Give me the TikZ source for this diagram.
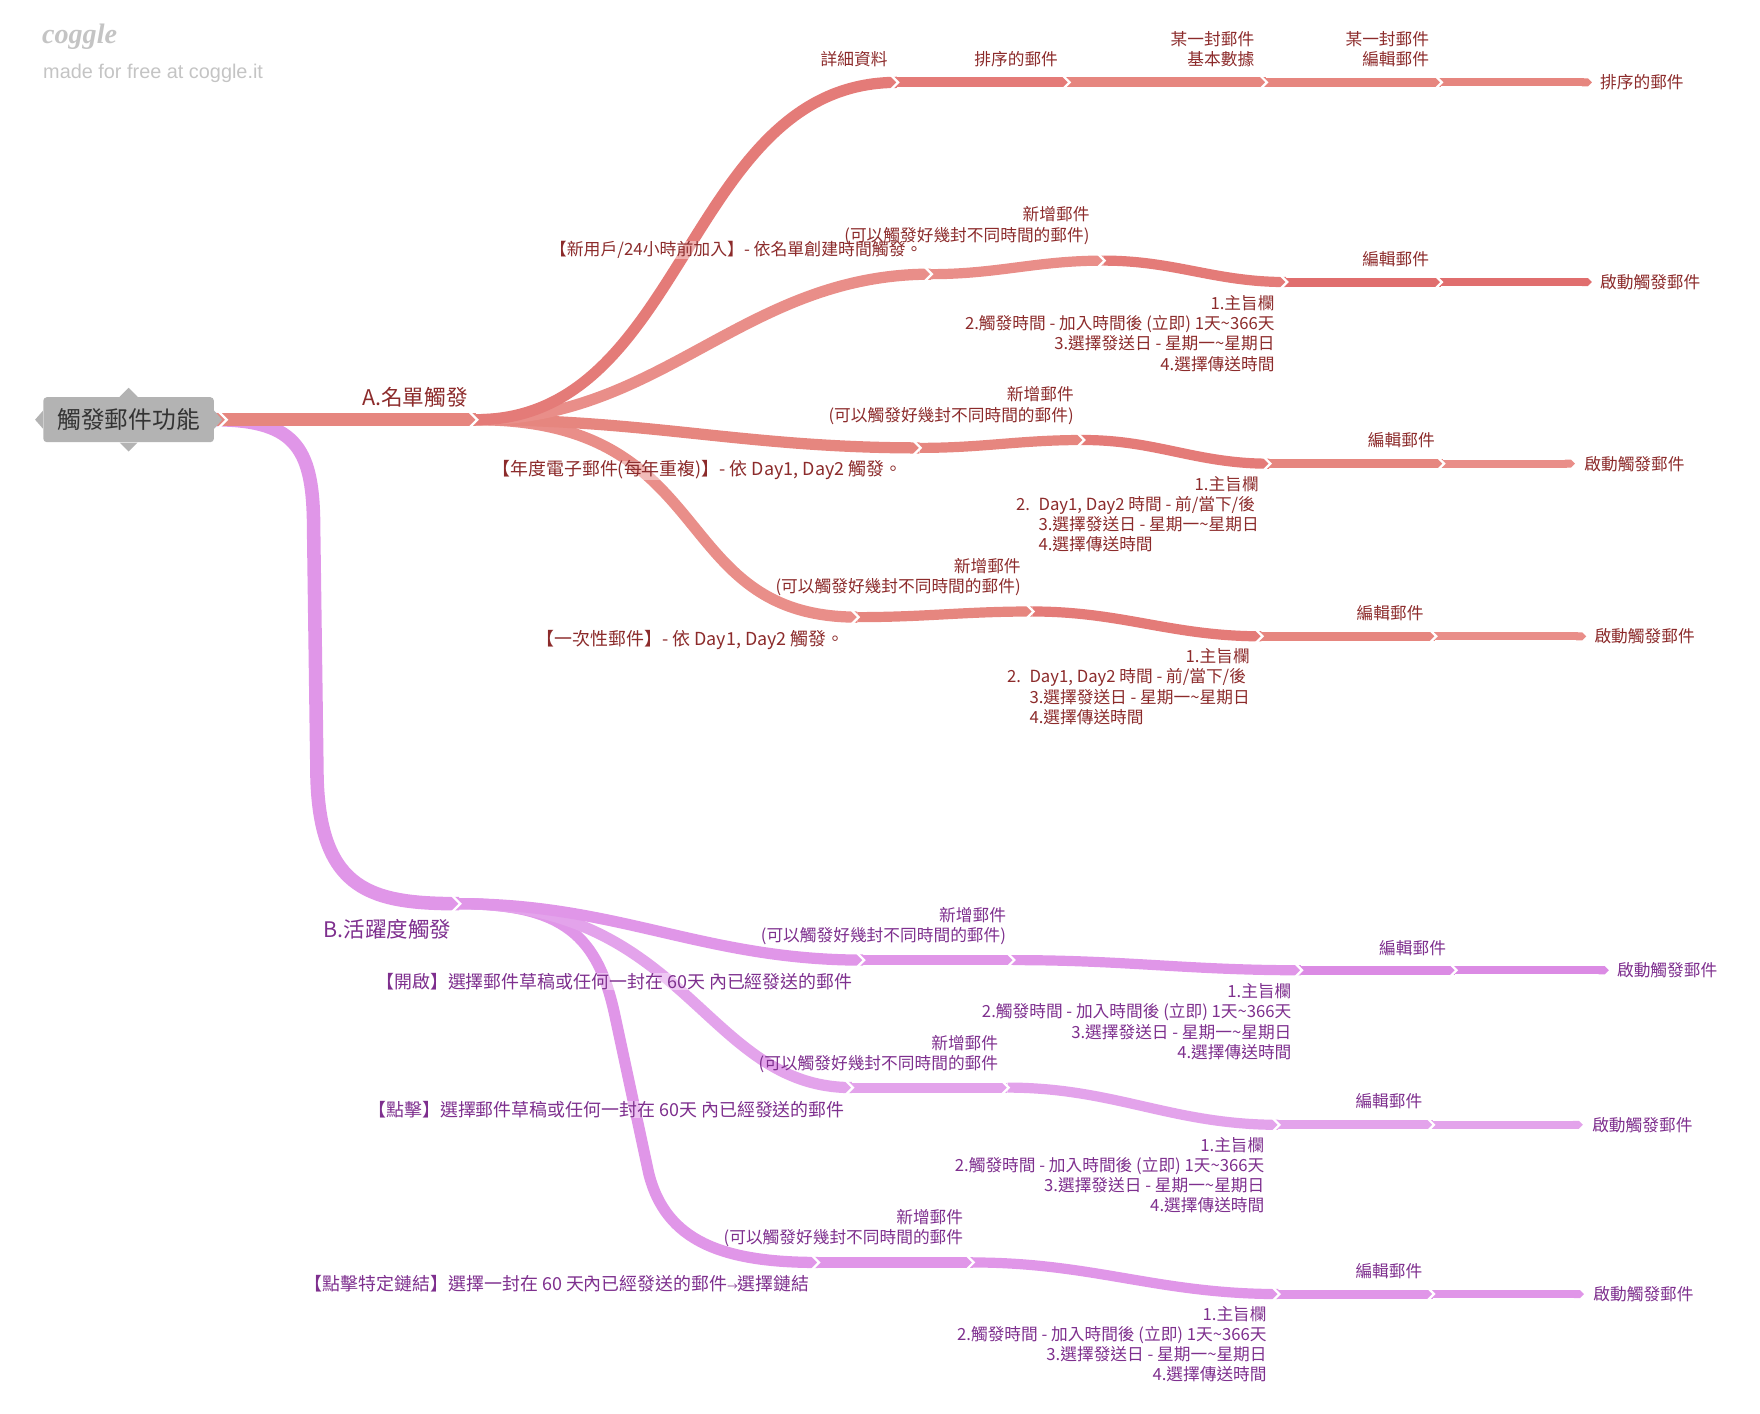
\documentclass[tikz,border=0pt]{standalone}
\usepackage{fontspec}
\setmainfont{Noto Sans CJK TC}
\newfontfamily\logofont{Liberation Serif}
\newfontfamily\creditfont{Liberation Sans}
\usepackage{tikz}
\usetikzlibrary{arrows.meta}
\definecolor{amain}{HTML}{E6867F}
\definecolor{ared}{HTML}{E47B78}
\definecolor{apale}{HTML}{E98E89}
\definecolor{adark}{HTML}{E06E6E}
\definecolor{atext}{HTML}{8C2B2B}
\definecolor{bmain}{HTML}{E096E8}
\definecolor{bdeep}{HTML}{DB8BE4}
\definecolor{bpale}{HTML}{E3A3EB}
\definecolor{btext}{HTML}{7E2F8E}
\definecolor{nodegray}{HTML}{B3B3B3}
\definecolor{rootgray}{HTML}{333333}
\definecolor{logogray}{HTML}{C4C4C4}
\newcommand{\lblsize}{\fontsize{9.5}{11.5}\selectfont}
\newcommand{\trigsize}{\fontsize{10.2}{12}\selectfont}
\newcommand{\rootsize}{\fontsize{13.5}{15}\selectfont}
\tikzstyle{notch} = [white, line width=1.3pt]
\newcommand{\notchat}[1]{\draw[notch] (#1) ++(-7,-8) -- ++(8,8) -- ++(-8,8);}

\begin{document}
\begin{tikzpicture}[x=0.02256cm, y=-0.02256cm,
	branch/.style={line width=7.7pt},
	twig/.style={line width=6.4pt},
	stem/.style={line width=5.8pt},
	edit/.style={line width=5.1pt},
	lastseg/.style={line width=4.6pt, -{Triangle Cap}},
	alabel/.style={text=atext, font=\lblsize, inner sep=0pt},
	blabel/.style={text=btext, font=\lblsize, inner sep=0pt},
	halo/.style={fill=white, fill opacity=0.4, text opacity=1, font=\trigsize},
	topic/.style={fill=nodegray, rounded corners=2pt, text=rootgray, font=\rootsize,
		minimum width=97pt, minimum height=25.6pt, inner sep=0pt}]
	\useasboundingbox (0,0) rectangle (1560,1253.3);

	% junctions
	\coordinate (r0) at (190,372);
	\coordinate (a0) at (422,372);
	\coordinate (a11) at (795,73);
	\coordinate (a12) at (947,73);
	\coordinate (a13) at (1122,73);
	\coordinate (a14) at (1277,73);
	\coordinate (a15) at (1411,73);
	\coordinate (a21) at (825,243);
	\coordinate (a22) at (978,231);
	\coordinate (a23) at (1140,250);
	\coordinate (a24) at (1277,250);
	\coordinate (a25) at (1411,250);
	\coordinate (a31) at (815,397);
	\coordinate (a32) at (960,390);
	\coordinate (a33) at (1125,411);
	\coordinate (a34) at (1279,411);
	\coordinate (a35) at (1396,411);
	\coordinate (a41) at (760,547);
	\coordinate (a42) at (915,542);
	\coordinate (a43) at (1118,564);
	\coordinate (a44) at (1272,564);
	\coordinate (a45) at (1406,564);
	\coordinate (b0) at (407,801);
	\coordinate (b11) at (765,851);
	\coordinate (b12) at (898,851);
	\coordinate (b13) at (1153,860);
	\coordinate (b14) at (1290,860);
	\coordinate (b15) at (1426,860);
	\coordinate (b21) at (755,964);
	\coordinate (b22) at (893,964);
	\coordinate (b23) at (1133,997);
	\coordinate (b24) at (1270,997);
	\coordinate (b25) at (1403,997);
	\coordinate (b31) at (725,1119);
	\coordinate (b32) at (862,1119);
	\coordinate (b33) at (1133,1147);
	\coordinate (b34) at (1270,1147);
	\coordinate (b35) at (1404,1147);

	% B: activity
	\draw[branch, bmain] (r0) .. controls (265,372) and (278,400) .. (278,470)
		-- (281,690) .. controls (284,790) and (330,801) .. (b0);
	\draw[twig, bmain] (b0) .. controls (500,801) and (530,830) .. (545,900)
		-- (575,1040) .. controls (590,1100) and (640,1119) .. (b31);
	\draw[twig, bpale] (b0) .. controls (610,801) and (625,964) .. (b21);
	\draw[twig, bmain] (b0) to[out=0, in=180] (b11);
	\draw[stem, bmain] (b11) -- (b12);
	\draw[stem, bmain] (b12) to[out=0, in=180] (b13);
	\draw[edit, bdeep] (b13) -- (b14);
	\draw[lastseg, bdeep] (b14) -- (b15);
	\draw[stem, bpale] (b21) -- (b22);
	\draw[stem, bpale] (b22) to[out=0, in=180] (b23);
	\draw[edit, bpale] (b23) -- (b24);
	\draw[lastseg, bpale] (b24) -- (b25);
	\draw[stem, bmain] (b31) -- (b32);
	\draw[stem, bmain] (b32) to[out=0, in=180] (b33);
	\draw[edit, bmain] (b33) -- (b34);
	\draw[lastseg, bmain] (b34) -- (b35);

	% A: list
	\draw[branch, amain] (r0) -- (a0);
	\draw[twig, apale] (a0) .. controls (640,372) and (590,547) .. (a41);
	\draw[twig, amain] (a0) to[out=0, in=180] (a31);
	\draw[twig, apale] (a0) to[out=0, in=180] (a21);
	\draw[twig, ared] (a0) to[out=0, in=180] (a11);
	\draw[stem, ared] (a11) -- (a12);
	\draw[stem, amain] (a12) -- (a13);
	\draw[edit, amain] (a13) -- (a14);
	\draw[lastseg, amain] (a14) -- (a15);
	\draw[stem, apale] (a21) to[out=0, in=180] (a22);
	\draw[stem, ared] (a22) to[out=0, in=180] (a23);
	\draw[edit, adark] (a23) -- (a24);
	\draw[lastseg, adark] (a24) -- (a25);
	\draw[stem, amain] (a31) to[out=0, in=180] (a32);
	\draw[stem, ared] (a32) to[out=0, in=180] (a33);
	\draw[edit, amain] (a33) -- (a34);
	\draw[lastseg, apale] (a34) -- (a35);
	\draw[stem, amain] (a41) to[out=0, in=180] (a42);
	\draw[stem, ared] (a42) to[out=0, in=180] (a43);
	\draw[edit, amain] (a43) -- (a44);
	\draw[lastseg, apale] (a44) -- (a45);

	% chevrons between segments
	\draw[notch] (r0) ++(2,-9) -- ++(9,9) -- ++(-9,9);
	\notchat{a0} \notchat{a11} \notchat{a12} \notchat{a13} \notchat{a14}
	\notchat{a21} \notchat{a22} \notchat{a23} \notchat{a24}
	\notchat{a31} \notchat{a32} \notchat{a33} \notchat{a34}
	\notchat{a41} \notchat{a42} \notchat{a43} \notchat{a44}
	\notchat{b0} \notchat{b11} \notchat{b12} \notchat{b13} \notchat{b14}
	\notchat{b21} \notchat{b22} \notchat{b23} \notchat{b24}
	\notchat{b31} \notchat{b32} \notchat{b33} \notchat{b34}

	% central topic
	\node[topic] (root) at (114,372) {觸發郵件功能};
	\fill[nodegray] (root.north) ++(-8,0) -- ++(8,-8) -- ++(8,8) -- cycle;
	\fill[nodegray] (root.south) ++(-8,0) -- ++(8,8) -- ++(8,-8) -- cycle;
	\fill[nodegray] (root.west) ++(0,-8) -- ++(-7,8) -- ++(7,8) -- cycle;
	\fill[nodegray] (root.east) ++(0,-8) -- ++(7,8) -- ++(-7,8) -- cycle;

	% logo
	\node[anchor=west, inner sep=0pt, text=logogray, font=\logofont\itshape\bfseries\fontsize{16}{18}\selectfont] (logo) at (37,33) {coggle};
	\node[anchor=west, inner sep=0pt, text=logogray, font=\creditfont\fontsize{11.3}{13}\selectfont] (credit) at (38,65) {made for free at coggle.it};

	% A labels
	\node[alabel, anchor=south east, font=\fontsize{12.3}{14}\selectfont] (alist) at (415,361) {A.名單觸發};
	\node[alabel, halo, anchor=south east, font=\fontsize{9.6}{11.5}\selectfont] (a21t) at (818,229.5) {【新用戶/24小時前加入】- 依名單創建時間觸發。};
	\node[alabel, halo, anchor=north east] (a31t) at (800,408) {【年度電子郵件(每年重複)】- 依 Day1, Day2 觸發。};
	\node[alabel, halo, anchor=north east] (a41t) at (749,558) {【一次性郵件】- 依 Day1, Day2 觸發。};

	\node[alabel, anchor=south east] (a11t) at (787,59.5) {詳細資料};
	\node[alabel, anchor=south east] (a12t) at (938,59.5) {排序的郵件};
	\node[alabel, anchor=south east, align=right] (a13t) at (1112,59.5) {某一封郵件\\基本數據};
	\node[alabel, anchor=south east, align=right] (a14t) at (1267,59.5) {某一封郵件\\編輯郵件};
	\node[alabel, anchor=west] (a15t) at (1418,73) {排序的郵件};

	\node[alabel, anchor=south east, align=right] (a22t) at (966,217) {新增郵件\\(可以觸發好幾封不同時間的郵件)};
	\node[alabel, anchor=north east, align=right] (a23t) at (1130,261.5) {1.主旨欄\\2.觸發時間 - 加入時間後 (立即) 1天\textasciitilde{}366天\\3.選擇發送日 - 星期一\textasciitilde{}星期日\\4.選擇傳送時間};
	\node[alabel, anchor=south east] (a24t) at (1267,236.5) {編輯郵件};
	\node[alabel, anchor=west] (a25t) at (1418,250) {啟動觸發郵件};

	\node[alabel, anchor=south east, align=right] (a32t) at (952,376.5) {新增郵件\\(可以觸發好幾封不同時間的郵件)};
	\node[alabel, anchor=north east] (a33t) at (1116,421.5) {\begin{tabular}{@{}l@{}}\hfill 1.主旨欄\\\makebox[12.8pt][l]{2.}Day1, Day2 時間 - 前/當下/後\\\hspace*{12.8pt}3.選擇發送日 - 星期一\textasciitilde{}星期日\\\hspace*{12.8pt}4.選擇傳送時間\end{tabular}};
	\node[alabel, anchor=south east] (a34t) at (1272,397.5) {編輯郵件};
	\node[alabel, anchor=west] (a35t) at (1404,411) {啟動觸發郵件};

	\node[alabel, anchor=south east, align=right] (a42t) at (905,528.5) {新增郵件\\(可以觸發好幾封不同時間的郵件)};
	\node[alabel, anchor=north east] (a43t) at (1108,574.5) {\begin{tabular}{@{}l@{}}\hfill 1.主旨欄\\\makebox[12.8pt][l]{2.}Day1, Day2 時間 - 前/當下/後\\\hspace*{12.8pt}3.選擇發送日 - 星期一\textasciitilde{}星期日\\\hspace*{12.8pt}4.選擇傳送時間\end{tabular}};
	\node[alabel, anchor=south east] (a44t) at (1262,550.5) {編輯郵件};
	\node[alabel, anchor=west] (a45t) at (1413,564) {啟動觸發郵件};

	% B labels
	\node[blabel, anchor=north east, font=\fontsize{12.2}{14}\selectfont] (blist) at (400,815) {B.活躍度觸發};
	\node[blabel, halo, anchor=north east] (b11t) at (756,862) {【開啟】選擇郵件草稿或任何一封在 60天 內已經發送的郵件};
	\node[blabel, halo, anchor=north east] (b21t) at (749,976) {【點擊】選擇郵件草稿或任何一封在 60天 內已經發送的郵件};
	\node[blabel, halo, anchor=north east] (b31t) at (718,1130) {【點擊特定鏈結】選擇一封在 60 天內已經發送的郵件{\fontsize{6}{6}\selectfont →}選擇鏈結};

	\node[blabel, anchor=south east, align=right] (b12t) at (892,837.5) {新增郵件\\(可以觸發好幾封不同時間的郵件)};
	\node[blabel, anchor=north east, align=right] (b13t) at (1145,871.5) {1.主旨欄\\2.觸發時間 - 加入時間後 (立即) 1天\textasciitilde{}366天\\3.選擇發送日 - 星期一\textasciitilde{}星期日\\4.選擇傳送時間};
	\node[blabel, anchor=south east] (b14t) at (1282,847.5) {編輯郵件};
	\node[blabel, anchor=west] (b15t) at (1433,860) {啟動觸發郵件};

	\node[blabel, anchor=south east, align=right] (b22t) at (885,951.5) {新增郵件\\(可以觸發好幾封不同時間的郵件};
	\node[blabel, anchor=north east, align=right] (b23t) at (1121,1007.5) {1.主旨欄\\2.觸發時間 - 加入時間後 (立即) 1天\textasciitilde{}366天\\3.選擇發送日 - 星期一\textasciitilde{}星期日\\4.選擇傳送時間};
	\node[blabel, anchor=south east] (b24t) at (1261,983.5) {編輯郵件};
	\node[blabel, anchor=west] (b25t) at (1411,997) {啟動觸發郵件};

	\node[blabel, anchor=south east, align=right] (b32t) at (854,1105.5) {新增郵件\\(可以觸發好幾封不同時間的郵件};
	\node[blabel, anchor=north east, align=right] (b33t) at (1123,1157.5) {1.主旨欄\\2.觸發時間 - 加入時間後 (立即) 1天\textasciitilde{}366天\\3.選擇發送日 - 星期一\textasciitilde{}星期日\\4.選擇傳送時間};
	\node[blabel, anchor=south east] (b34t) at (1261,1133.5) {編輯郵件};
	\node[blabel, anchor=west] (b35t) at (1412,1147) {啟動觸發郵件};
\end{tikzpicture}
\end{document}
